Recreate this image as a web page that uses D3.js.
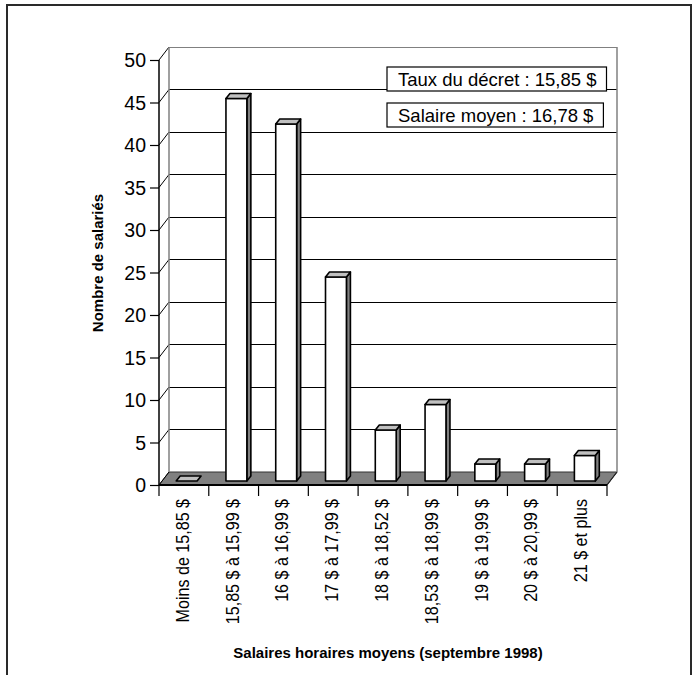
<!DOCTYPE html>
<html>
<head>
<meta charset="utf-8">
<script src="https://cdn.jsdelivr.net/npm/d3@7"></script>
<style>
  html, body { margin: 0; padding: 0; background: #fff; }
  svg { display: block; }
  text { font-family: "Liberation Sans", Arial, sans-serif; fill: #000; }
</style>
</head>
<body>
<svg id="chart" width="696" height="675"></svg>
<script>
// Wage brackets (hourly, September 1998) and number of employees in each
const categories = [
  "Moins de 15,85 $",
  "15,85 $ à 15,99 $",
  "16 $ à 16,99 $",
  "17 $ à 17,99 $",
  "18 $ à 18,52 $",
  "18,53 $ à 18,99 $",
  "19 $ à 19,99 $",
  "20 $ à 20,99 $",
  "21 $ et plus"
];
const employees = [0, 45, 42, 24, 6, 9, 2, 2, 3];
const yTicks = [0, 5, 10, 15, 20, 25, 30, 35, 40, 45, 50];
const legendLines = ["Taux du décret : 15,85 $", "Salaire moyen : 16,78 $"];
const yTitle = "Nombre de salariés";
const xTitle = "Salaires horaires moyens (septembre 1998)";

const svg = d3.select("#chart");

// outer frame
svg.append("rect")
  .attr("x", 7).attr("y", 5).attr("width", 684).attr("height", 720)
  .attr("fill", "none").attr("stroke", "#2a2a2a").attr("stroke-width", 2);

const x = d3.scaleBand().domain(categories).range([159, 607]).padding(0);
const y = d3.scaleLinear().domain([0, 50]).range([485, 60]);

// depth of the 3D plot box and of each bar
const DX = 10, DY = -13;
const bx = 4, by = -5;

const g = svg.append("g");

// floor
const x0 = x.range()[0], x1 = x.range()[1];
g.append("path")
  .attr("d", `M${x0},${y(0)} L${x1},${y(0)} L${x1 + DX},${y(0) + DY} L${x0 + DX},${y(0) + DY} Z`)
  .attr("fill", "#808080").attr("stroke", "#333").attr("stroke-width", 1);

// back wall gridlines
g.selectAll("line.grid").data(yTicks.slice(1)).join("line")
  .attr("class", "grid")
  .attr("x1", x0 + DX).attr("x2", x1 + DX)
  .attr("y1", d => y(d) + DY).attr("y2", d => y(d) + DY)
  .attr("stroke", d => d === 50 ? "#808080" : "#000")
  .attr("stroke-width", 1)
  .attr("shape-rendering", "crispEdges");

// side wall diagonals
g.selectAll("line.diag").data(yTicks).join("line")
  .attr("class", "diag")
  .attr("x1", x0).attr("x2", x0 + DX)
  .attr("y1", d => y(d)).attr("y2", d => y(d) + DY)
  .attr("stroke", "#000").attr("stroke-width", 1);

// back wall edges
g.append("line")
  .attr("x1", x0 + DX).attr("x2", x0 + DX)
  .attr("y1", y(0) + DY).attr("y2", y(50) + DY)
  .attr("stroke", "#808080").attr("stroke-width", 1.5);
g.append("line")
  .attr("x1", x1 + DX).attr("x2", x1 + DX)
  .attr("y1", y(0) + DY).attr("y2", y(50) + DY)
  .attr("stroke", "#808080").attr("stroke-width", 1.5);

// floor right edge
g.append("line")
  .attr("x1", x1).attr("x2", x1 + DX)
  .attr("y1", y(0)).attr("y2", y(0) + DY)
  .attr("stroke", "#222").attr("stroke-width", 1.2);

// bars
const bw = x.bandwidth();
const barW = bw * 0.42;
const barOff = bw * 0.345;
const lift = 4;
const bars = g.selectAll("g.bar").data(categories.map((c, i) => ({ c, v: employees[i] }))).join("g").attr("class", "bar");
bars.each(function (d) {
  const sel = d3.select(this);
  const L = x(d.c) + barOff, R = L + barW;
  const B = y(0) - lift, T = y(d.v) - lift;
  const stroke = { stroke: "#000", "stroke-width": 1.6, "stroke-linejoin": "round" };
  const apply = (p) => { Object.entries(stroke).forEach(([k, v]) => p.attr(k, v)); return p; };
  if (d.v > 0) {
    apply(sel.append("path")
      .attr("d", `M${R},${B} L${R + bx},${B + by} L${R + bx},${T + by} L${R},${T} Z`)
      .attr("fill", "#808080"));
    apply(sel.append("rect")
      .attr("x", L).attr("y", T).attr("width", barW).attr("height", B - T)
      .attr("fill", "#fff"));
  }
  apply(sel.append("path")
    .attr("d", `M${L},${T} L${L + bx},${T + by} L${R + bx},${T + by} L${R},${T} Z`)
    .attr("fill", "#c0c0c0"));
});

// y axis
const yAxis = g.append("g").attr("transform", `translate(${x0},0)`)
  .call(d3.axisLeft(y).tickValues(yTicks).tickSize(9).tickPadding(4).tickFormat(d3.format("d")));
yAxis.select(".domain").attr("stroke", "#000").attr("stroke-width", 1.5)
  .attr("d", `M0,${y(50)}V${y(0)}`);
yAxis.selectAll(".tick line").attr("stroke", "#000").attr("stroke-width", 1.2);
yAxis.selectAll(".tick text")
  .attr("font-size", 21).attr("font-family", "Liberation Sans, Arial, sans-serif").attr("fill", "#000")
  .attr("transform", "translate(-13,0) scale(0.93,1) translate(13,0)");

// x axis
const xAxis = g.append("g").attr("transform", `translate(0,${y(0)})`)
  .call(d3.axisBottom(x).tickSize(0).tickFormat(""));
xAxis.select(".domain").attr("stroke", "#000").attr("stroke-width", 2)
  .attr("d", `M${x0},0H${x1}`);
xAxis.selectAll(".tick line").remove();
const boundaries = categories.map(c => x(c)).concat([x1]);
xAxis.selectAll("line.sep").data(boundaries).join("line")
  .attr("class", "sep")
  .attr("x1", d => d).attr("x2", d => d).attr("y1", 0).attr("y2", 11)
  .attr("stroke", "#000").attr("stroke-width", 1.2);
xAxis.selectAll("text.cat").data(categories).join("text")
  .attr("class", "cat")
  .attr("transform", d => `translate(${x(d) + bw / 2 + 5},${14}) rotate(-90) scale(0.92,1)`)
  .attr("text-anchor", "end")
  .attr("font-size", 17.5)
  .text(d => d);

// axis titles
svg.append("text")
  .attr("transform", "translate(103,263) rotate(-90)")
  .attr("text-anchor", "middle")
  .attr("font-size", 15).attr("font-weight", "bold")
  .text(yTitle);
svg.append("text")
  .attr("x", 388).attr("y", 658)
  .attr("text-anchor", "middle")
  .attr("font-size", 15).attr("font-weight", "bold")
  .text(xTitle);

// annotation boxes
const boxTops = [67, 103];
legendLines.forEach((t, i) => {
  const lg = svg.append("g");
  const rect = lg.append("rect");
  const txt = lg.append("text")
    .attr("x", 398).attr("y", boxTops[i] + 18.5)
    .attr("font-size", 18.5)
    .text(t);
  const w = txt.node().getComputedTextLength();
  rect.attr("x", 387).attr("y", boxTops[i]).attr("width", w + 21).attr("height", 24)
    .attr("fill", "#fff").attr("stroke", "#000").attr("stroke-width", 1.2);
});
</script>
</body>
</html>
